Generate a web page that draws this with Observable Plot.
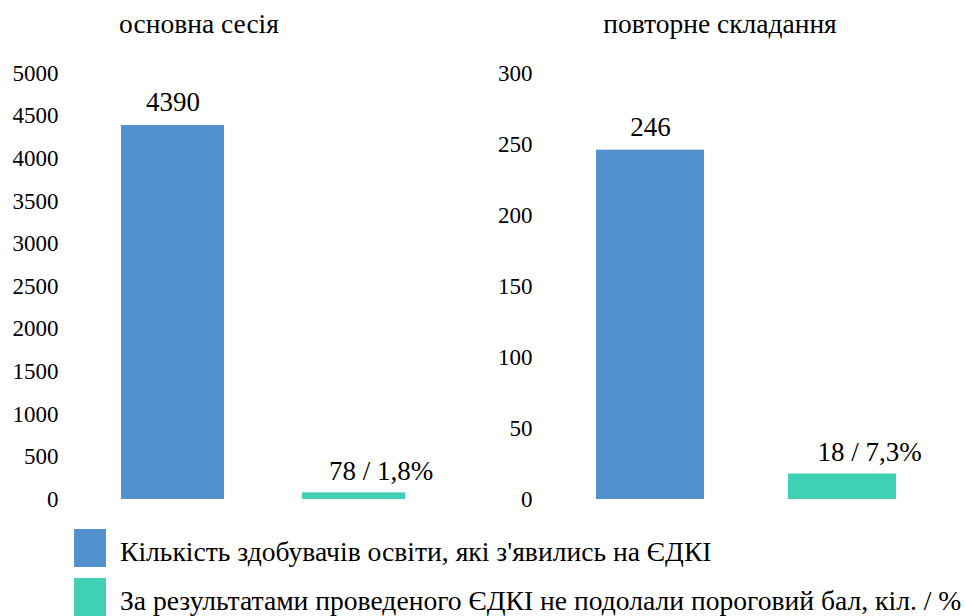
<!DOCTYPE html>
<html>
<head>
<meta charset="utf-8">
<script src="https://cdn.jsdelivr.net/npm/d3@7"></script>
<script src="https://cdn.jsdelivr.net/npm/@observablehq/plot@0.6"></script>
<style>
  html, body { margin: 0; padding: 0; background: #fff; }
  #wrap { position: relative; width: 966px; height: 616px; overflow: hidden; font-family: 'Liberation Serif', 'Times New Roman', serif; color: #000; }
  .title { position: absolute; top: 8px; font-family: 'Liberation Serif', serif; font-size: 27.5px; white-space: nowrap; transform: translateX(-50%); }
  .panel { position: absolute; top: 0; }
  .panel svg text { font-family: 'Liberation Serif', serif; }
  .leg { position: absolute; left: 74px; display: flex; align-items: center; white-space: nowrap; font-family: 'Liberation Serif', serif; font-size: 27.6px; }
  .leg .sw { width: 32px; height: 38px; margin-right: 14px; flex: none; }
  .leg .tx { position: relative; top: 4px; }
</style>
</head>
<body>
<div id="wrap">
  <div class="title" style="left:199px">основна сесія</div>
  <div class="title" style="left:720px">повторне складання</div>
  <div class="panel" id="p1" style="left:0px"></div>
  <div class="panel" id="p2" style="left:480px"></div>
  <div class="leg" id="leg1" style="top:529px"></div>
  <div class="leg" id="leg2" style="top:578px"></div>
</div>
<script>
const seriesNames = [
  "Кількість здобувачів освіти, які з'явились на ЄДКІ",
  "За результатами проведеного ЄДКІ не подолали пороговий бал, кіл. / %"
];
const seriesColors = ["#5391CE", "#40D0B5"];
const mainValues = [4390, 78];
const mainLabels = ["4390", "78 / 1,8%"];
const retakeValues = [246, 18];
const retakeLabels = ["246", "18 / 7,3%"];
const mainTicks = [0, 500, 1000, 1500, 2000, 2500, 3000, 3500, 4000, 4500, 5000];
const retakeTicks = [0, 50, 100, 150, 200, 250, 300];

const FONT = "'Liberation Serif', 'Times New Roman', serif";

function panel(values, labels, ticks, opts) {
  const data = values.map((v, i) => ({series: seriesNames[i], value: v, label: labels[i]}));
  return Plot.plot({
    width: opts.width,
    height: 520,
    marginTop: 73,
    marginBottom: 21,
    marginLeft: opts.marginLeft,
    marginRight: 0,
    style: {fontFamily: FONT, fontSize: "24px", color: "#000", background: "transparent", overflow: "visible"},
    x: {domain: seriesNames, range: opts.xRange, paddingInner: opts.pad, paddingOuter: 0, axis: null},
    y: {domain: [ticks[0], ticks[ticks.length - 1]], axis: null},
    color: {domain: seriesNames, range: seriesColors},
    marks: [
      Plot.axisY({ticks: ticks, tickFormat: "d", tickSize: 0, tickPadding: 2, fontSize: 23, label: null, fontFamily: FONT}),
      Plot.barY(data, {x: "series", y: "value", fill: "series"}),
      Plot.text(data.slice(0, 1), {x: "series", y: "value", text: "label", lineAnchor: "bottom", dy: -14, fontSize: 27, fontFamily: FONT}),
      Plot.text(data.slice(1), {x: "series", y: "value", text: "label", lineAnchor: "bottom", dy: -13, dx: 27, fontSize: 27, fontFamily: FONT})
    ]
  });
}

document.getElementById("p1").appendChild(
  panel(mainValues, mainLabels, mainTicks, {width: 480, marginLeft: 60, xRange: [121, 406], pad: 0.43})
);
document.getElementById("p2").appendChild(
  panel(retakeValues, retakeLabels, retakeTicks, {width: 486, marginLeft: 54, xRange: [115, 417], pad: 0.435})
);

["leg1", "leg2"].forEach((id, i) => {
  const el = document.getElementById(id);
  const sw = document.createElement("span");
  sw.className = "sw";
  sw.style.background = seriesColors[i];
  const tx = document.createElement("span");
  tx.className = "tx";
  tx.textContent = seriesNames[i];
  el.appendChild(sw);
  el.appendChild(tx);
});
</script>
</body>
</html>
